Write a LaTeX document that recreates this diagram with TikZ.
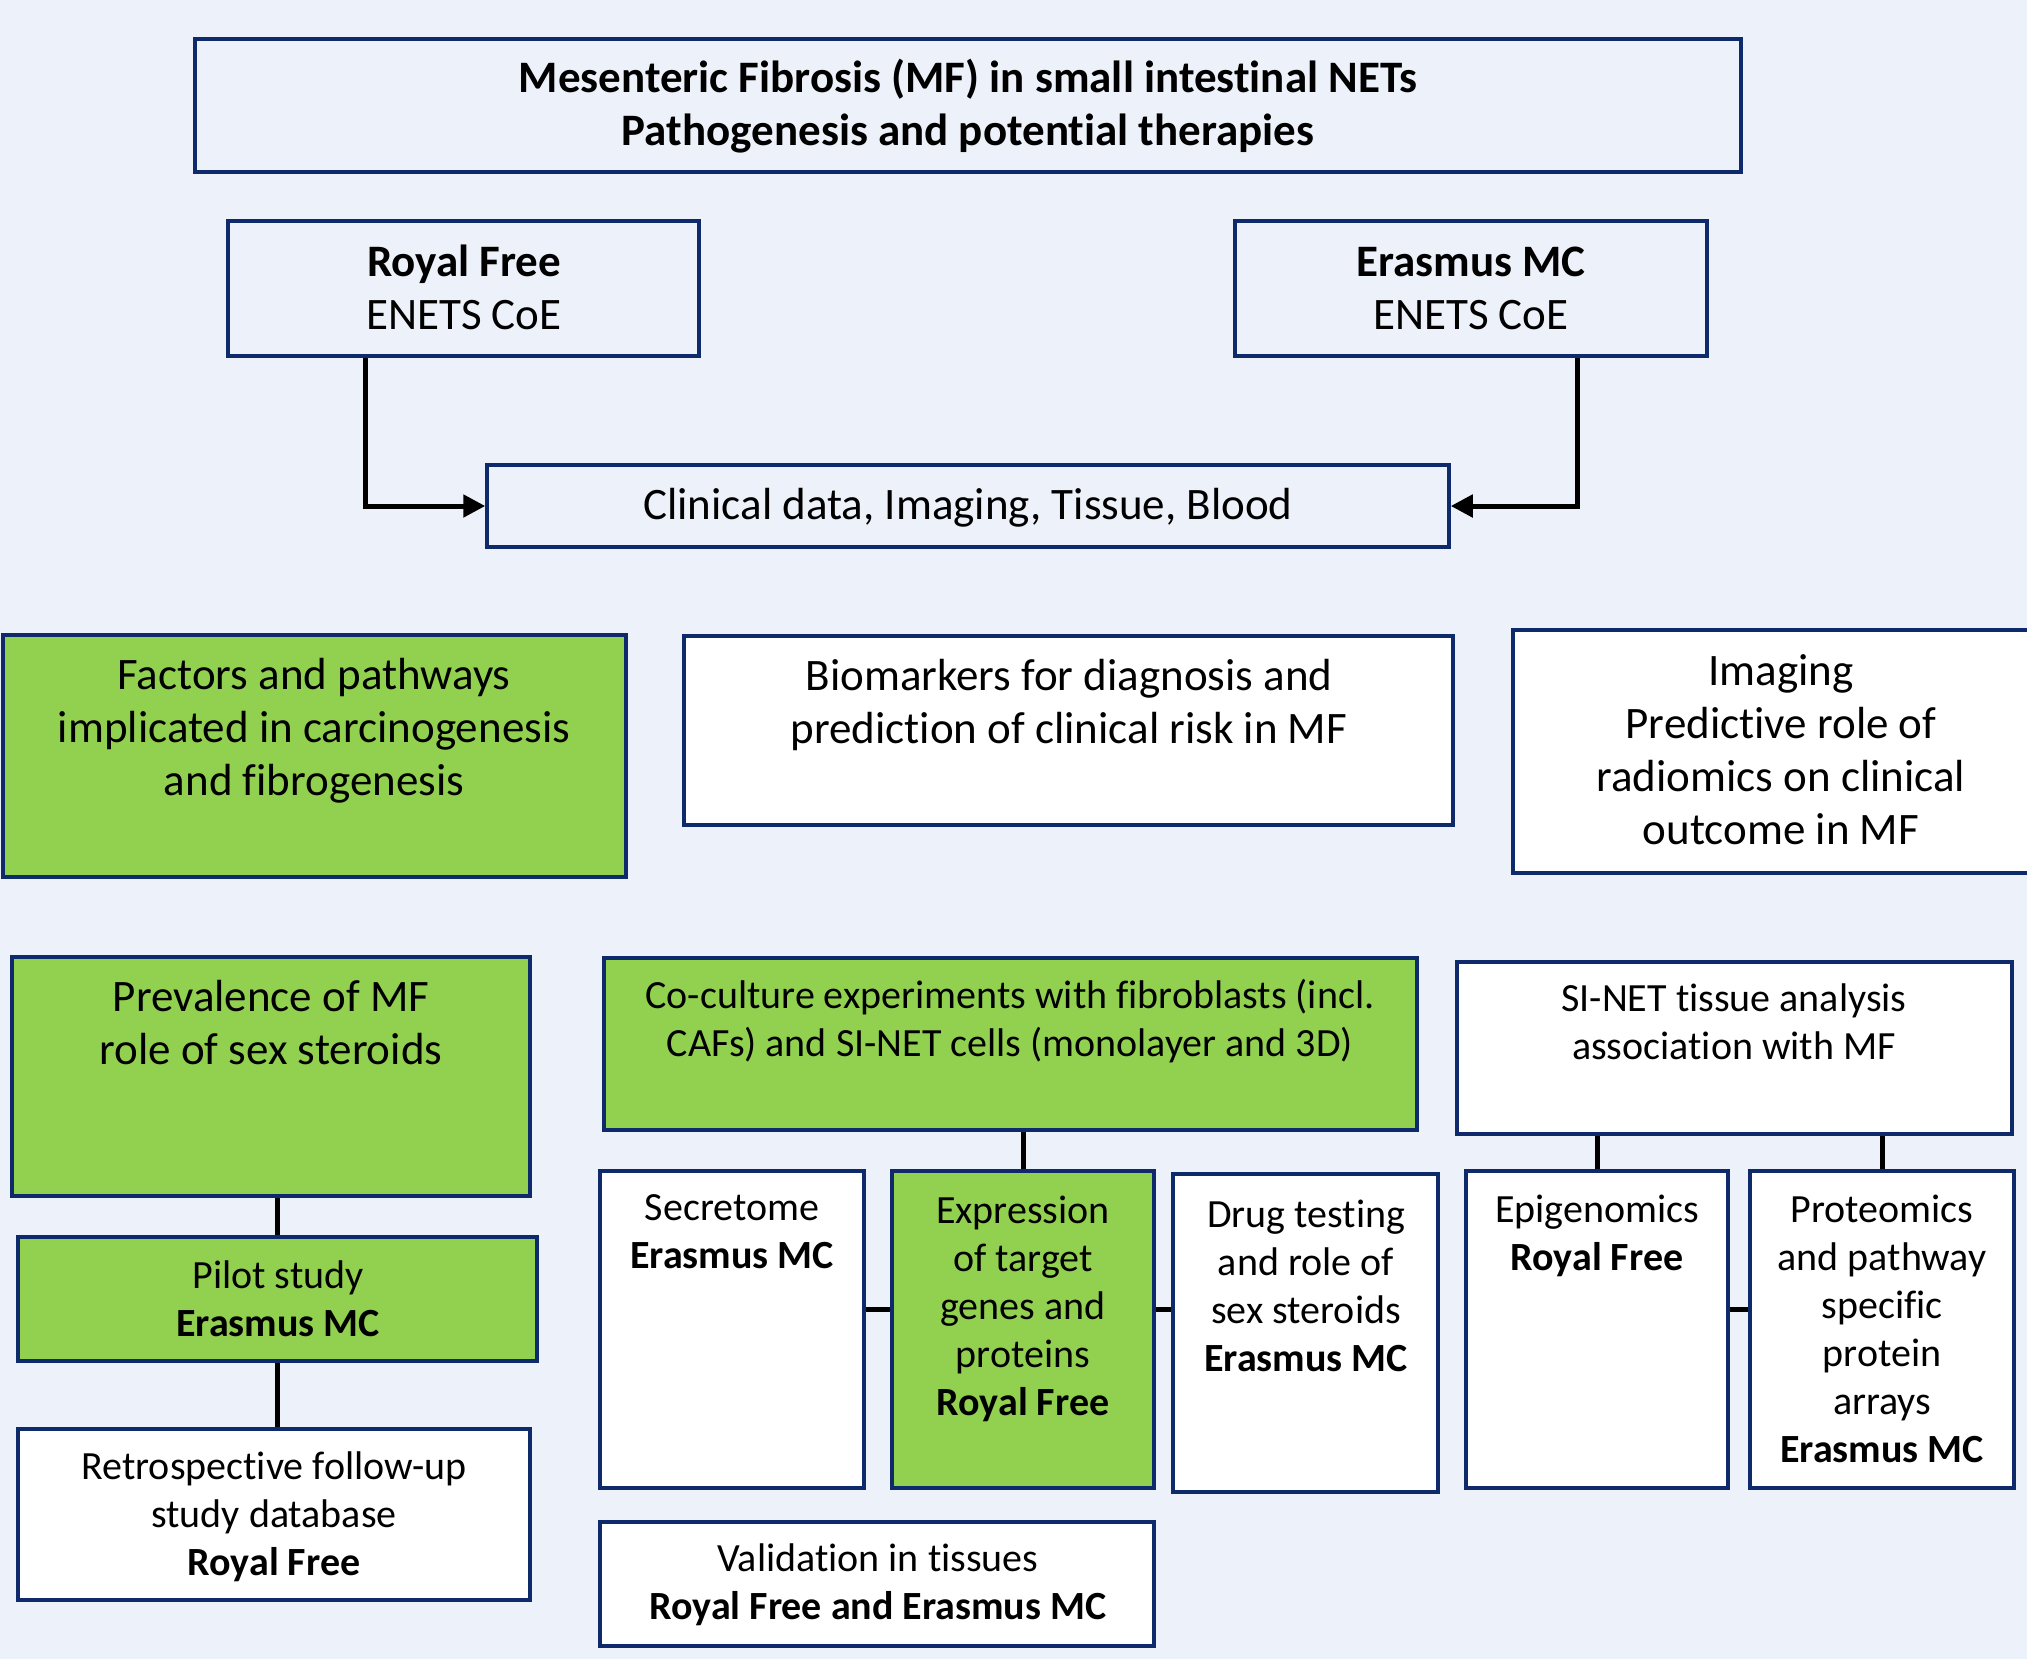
\documentclass[tikz,border=0pt]{standalone}
\usepackage{fontspec}
\setmainfont{Carlito}[Ligatures=NoCommon]
\usetikzlibrary{arrows.meta,calc,fit}
\definecolor{bgcol}{HTML}{EDF1F9}
\definecolor{navy}{HTML}{0F2A6B}
\definecolor{leaf}{HTML}{92D050}
\tikzset{
	box/.style={draw=navy,line width=1.75pt,fill=white,inner sep=0pt},
	tbox/.style={box,fill=bgcol},
	gbox/.style={box,fill=leaf},
	big/.style={align=center,anchor=base,inner sep=0pt,font=\fontsize{22.5}{26.5}\selectfont},
	small/.style={align=center,anchor=base,inner sep=0pt,font=\fontsize{20}{24}\selectfont},
	ln/.style={line width=2.5pt,black},
	arr/.style={ln,-{Triangle[length=11pt,width=11pt]}}
}
\begin{document}
\begin{tikzpicture}[x=.5pt,y=-.5pt]
	\fill[bgcol](0,0)rectangle(2027,1659);
	\clip(0,0)rectangle(2027,1659);
	% top part (text nodes sit on the baseline of their last line)
	\node[tbox,fit={(195,39)(1741,172)}](title){};
	\node[big,font=\fontsize{22.5}{26.5}\selectfont\bfseries](titleT)at(968,145){Mesenteric Fibrosis (MF) in small intestinal NETs\\Pathogenesis and potential therapies};
	\node[tbox,fit={(228,221)(699,356)}](rf){};
	\node[big](rfT)at(464,329){\textbf{Royal Free}\\ENETS CoE};
	\node[tbox,fit={(1235,221)(1707,356)}](em){};
	\node[big](emT)at(1471,329){\textbf{Erasmus MC}\\ENETS CoE};
	\node[tbox,fit={(487,465)(1449,547)}](clin){};
	\node[big](clinT)at(968,519){Clinical data, Imaging, Tissue, Blood};
	\draw[arr]($(rf.south)+(-98,0)$)|-(clin.west);
	\draw[arr]($(em.south)+(106,0)$)|-(clin.east);
	% themes
	\node[gbox,fit={(3,635)(626,877)}](fac){};
	\node[big](facT)at(314,795){Factors and pathways\\implicated in carcinogenesis\\and fibrogenesis};
	\node[box,fit={(684,636)(1453,825)}](bio){};
	\node[big](bioT)at(1069,743){Biomarkers for diagnosis and\\prediction of clinical risk in MF};
	\node[box,fit={(1513,630)(2045,873)}](img){};
	\node[big](imgT)at(1781,844){Imaging\\Predictive role of\\radiomics on clinical\\outcome in MF};
	% left column
	\node[gbox,fit={(12,957)(530,1196)}](prev){};
	\node[big](prevT)at(271,1064){Prevalence of MF\\role of sex steroids};
	\node[gbox,fit={(18,1237)(537,1361)}](pilot){};
	\node[small](pilotT)at(278,1336){Pilot study\\\textbf{Erasmus MC}};
	\node[box,fit={(18,1429)(530,1600)}](retro){};
	\node[small](retroT)at(274,1575){Retrospective follow-up\\study database\\\textbf{Royal Free}};
	\draw[ln](prev.south-|pilot.north)--(pilot.north);
	\draw[ln](pilot.south)--(pilot.south|-retro.north);
	% middle column
	\node[gbox,fit={(604,958)(1417,1130)}](coc){};
	\node[small](cocT)at(1010,1056){Co-culture experiments with fibroblasts (incl.\\CAFs) and SI-NET cells (monolayer and 3D)};
	\node[box,fit={(600,1171)(864,1488)}](sec){};
	\node[small](secT)at(732,1268){Secretome\\\textbf{Erasmus MC}};
	\node[gbox,fit={(892,1171)(1154,1488)}](expr){};
	\node[small](exprT)at(1023,1415){Expression\\of target\\genes and\\proteins\\\textbf{Royal Free}};
	\node[box,fit={(1173,1174)(1438,1492)}](drug){};
	\node[small](drugT)at(1306,1371){Drug testing\\and role of\\sex steroids\\\textbf{Erasmus MC}};
	\node[box,fit={(600,1522)(1154,1646)}](val){};
	\node[small](valT)at(878,1619){Validation in tissues\\\textbf{Royal Free and Erasmus MC}};
	\coordinate(exprL)at($(expr.west)+(0,-20)$);
	\coordinate(exprR)at($(expr.east)+(0,-20)$);
	\draw[ln](coc.south-|expr.north)--(expr.north);
	\draw[ln](exprL-|sec.east)--(exprL);
	\draw[ln](exprR)--(exprR-|drug.west);
	% right column
	\node[box,fit={(1457,962)(2012,1134)}](si){};
	\node[small](siT)at(1734,1059){SI-NET tissue analysis\\association with MF};
	\node[box,fit={(1466,1171)(1728,1488)}](epi){};
	\node[small](epiT)at(1597,1270){Epigenomics\\\textbf{Royal Free}};
	\node[box,fit={(1750,1171)(2014,1488)}](prot){};
	\node[small](protT)at(1882,1462){Proteomics\\and pathway\\specific\\protein\\arrays\\\textbf{Erasmus MC}};
	\coordinate(epiR)at($(epi.east)+(0,-20)$);
	\draw[ln](si.south-|epi.north)--(epi.north);
	\draw[ln](si.south-|prot.north)--(prot.north);
	\draw[ln](epiR)--(epiR-|prot.west);
\end{tikzpicture}
\end{document}
